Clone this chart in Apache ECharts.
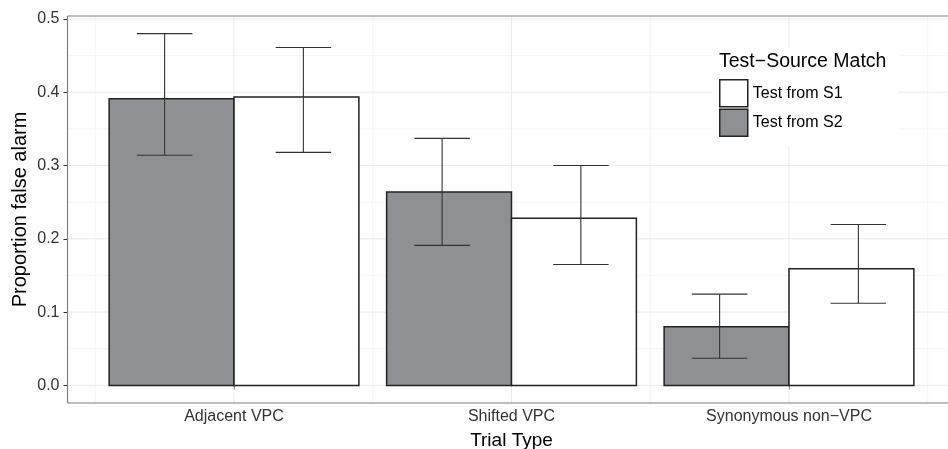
<!DOCTYPE html>
<html>
<head>
<meta charset="utf-8">
<script src="https://cdn.jsdelivr.net/npm/echarts@6/dist/echarts.min.js"></script>
<style>html,body{margin:0;padding:0;background:#fff;}#c{width:948px;height:449px;}</style>
</head>
<body>
<div id="c"></div>
<script>
const categories = ['Adjacent VPC', 'Shifted VPC', 'Synonymous non\u2212VPC'];
const seriesNames = ['Test from S1', 'Test from S2'];
const s2Values = [0.391, 0.264, 0.080];
const s2Upper = [0.480, 0.337, 0.1245];
const s2Lower = [0.314, 0.191, 0.037];
const s1Values = [0.3935, 0.228, 0.159];
const s1Upper = [0.461, 0.300, 0.2195];
const s1Lower = [0.318, 0.165, 0.112];
const yTicks = [0, 0.1, 0.2, 0.3, 0.4, 0.5];
const yMinor = [0.05, 0.15, 0.25, 0.35, 0.45];
const xTicks = [1, 2, 3];
const xMinor = [0.5, 1.5, 2.5, 3.5];

const FONT = '"Liberation Sans", Arial, Helvetica, sans-serif';
const GRAY = '#8f9094';
const chart = echarts.init(document.getElementById('c'), null, {renderer: 'canvas'});

function barSeries(name, values, offset, color) {
  return {
    name: name, type: 'custom', z: 3,
    itemStyle: {color: color, borderColor: '#222', borderWidth: 1.5},
    data: values.map((v, i) => [i + 1, v]),
    renderItem: function (params, api) {
      const x = api.value(0), v = api.value(1);
      const p0 = api.coord([x + offset - 0.225, v]);
      const p1 = api.coord([x + offset + 0.225, 0]);
      return {type: 'rect', shape: {x: p0[0], y: p0[1], width: p1[0] - p0[0], height: p1[1] - p0[1]},
        style: {fill: color, stroke: '#222', lineWidth: 1.5}};
    }
  };
}
function errSeries(lo, hi, offset) {
  return {
    type: 'custom', z: 4, silent: true,
    data: lo.map((l, i) => [i + 1, l, hi[i]]),
    renderItem: function (params, api) {
      const x = api.value(0) + offset, l = api.value(1), h = api.value(2);
      const a = api.coord([x, h]), b = api.coord([x, l]);
      const c1 = api.coord([x - 0.1, h]), c2 = api.coord([x + 0.1, h]);
      const d1 = api.coord([x - 0.1, l]), d2 = api.coord([x + 0.1, l]);
      const st = {stroke: '#333', lineWidth: 1.1};
      return {type: 'group', children: [
        {type: 'line', shape: {x1: a[0], y1: a[1], x2: b[0], y2: b[1]}, style: st},
        {type: 'line', shape: {x1: c1[0], y1: c1[1], x2: c2[0], y2: c2[1]}, style: st},
        {type: 'line', shape: {x1: d1[0], y1: d1[1], x2: d2[0], y2: d2[1]}, style: st}
      ]};
    }
  };
}
function gridSeries(hValues, vValues, color, z) {
  const data = hValues.map(v => [0, v]).concat(vValues.map(v => [1, v]));
  return {
    type: 'custom', z: z, silent: true,
    data: data,
    renderItem: function (params, api) {
      const cs = params.coordSys;
      const kind = api.value(0), v = api.value(1);
      if (kind === 0) {
        const y = api.coord([1, v])[1];
        return {type: 'line', shape: {x1: cs.x, y1: y, x2: cs.x + cs.width, y2: y}, style: {stroke: color, lineWidth: 1}};
      }
      const x = api.coord([v, 0])[0];
      return {type: 'line', shape: {x1: x, y1: cs.y, x2: x, y2: cs.y + cs.height}, style: {stroke: color, lineWidth: 1}};
    }
  };
}
// panel border (top, left, bottom) drawn from the coordinate system rectangle
const borderSeries = {
  type: 'custom', z: 5, silent: true, clip: false,
  data: [[0]],
  renderItem: function (params, api) {
    const cs = params.coordSys;
    const st = {stroke: '#7f7f7f', lineWidth: 1.2};
    const x0 = cs.x, y0 = cs.y, x1 = cs.x + cs.width, y1 = cs.y + cs.height;
    return {type: 'group', children: [
      {type: 'line', shape: {x1: x0, y1: y0, x2: x1, y2: y0}, style: st},
      {type: 'line', shape: {x1: x0, y1: y0, x2: x0, y2: y1}, style: st},
      {type: 'line', shape: {x1: x0, y1: y1, x2: x1, y2: y1}, style: st}
    ]};
  }
};

chart.setOption({
  animation: false,
  backgroundColor: '#fff',
  textStyle: {fontFamily: FONT},
  grid: {left: 67.5, top: 16, width: 888, height: 387, show: false, containLabel: false, outerBoundsMode: 'none'},
  xAxis: {
    type: 'value', min: 0.4, max: 3.6,
    name: 'Trial Type', nameLocation: 'middle', nameGap: 28, nameMoveOverlap: false,
    nameTextStyle: {fontSize: 19, color: '#000', fontFamily: FONT, verticalAlign: 'top'},
    axisLine: {show: false},
    axisTick: {show: true, length: 4, lineStyle: {color: '#333'}, customValues: xTicks},
    axisLabel: {show: true, fontSize: 16, color: '#333', fontFamily: FONT, margin: 6, customValues: xTicks,
      formatter: v => categories[Math.round(v) - 1] || ''},
    splitLine: {show: false}
  },
  yAxis: {
    type: 'value', min: -0.024, max: 0.504,
    name: 'Proportion false alarm', nameLocation: 'middle', nameGap: 37, nameMoveOverlap: false,
    nameTextStyle: {fontSize: 20, color: '#000', fontFamily: FONT},
    axisLine: {show: false},
    axisTick: {show: true, length: 4, lineStyle: {color: '#333'}, customValues: yTicks},
    axisLabel: {show: true, fontSize: 16, color: '#333', fontFamily: FONT, margin: 8, customValues: yTicks,
      formatter: v => v.toFixed(1)},
    splitLine: {show: false}
  },
  legend: {
    left: 712, top: 48, orient: 'vertical', padding: [31, 56, 9, 7],
    backgroundColor: '#fff', itemWidth: 28, itemHeight: 27, itemGap: 1,
    icon: 'rect',
    textStyle: {fontSize: 16, color: '#000', fontFamily: FONT},
    data: [
      {name: seriesNames[0], itemStyle: {color: '#fff', borderColor: '#222', borderWidth: 1.5}},
      {name: seriesNames[1], itemStyle: {color: GRAY, borderColor: '#222', borderWidth: 1.5}}
    ],
    z: 10
  },
  graphic: [{
    type: 'text', left: 719, top: 52, z: 100,
    style: {text: 'Test\u2212Source Match', font: '19.5px ' + FONT, fill: '#000'}
  }],
  series: [
    gridSeries(yMinor, xMinor, '#f5f5f5', 1),
    gridSeries(yTicks, xTicks, '#ebebeb', 2),
    barSeries(seriesNames[1], s2Values, -0.225, GRAY),
    barSeries(seriesNames[0], s1Values, 0.225, '#fff'),
    errSeries(s2Lower, s2Upper, -0.25),
    errSeries(s1Lower, s1Upper, 0.25),
    borderSeries
  ]
});
</script>
</body>
</html>
